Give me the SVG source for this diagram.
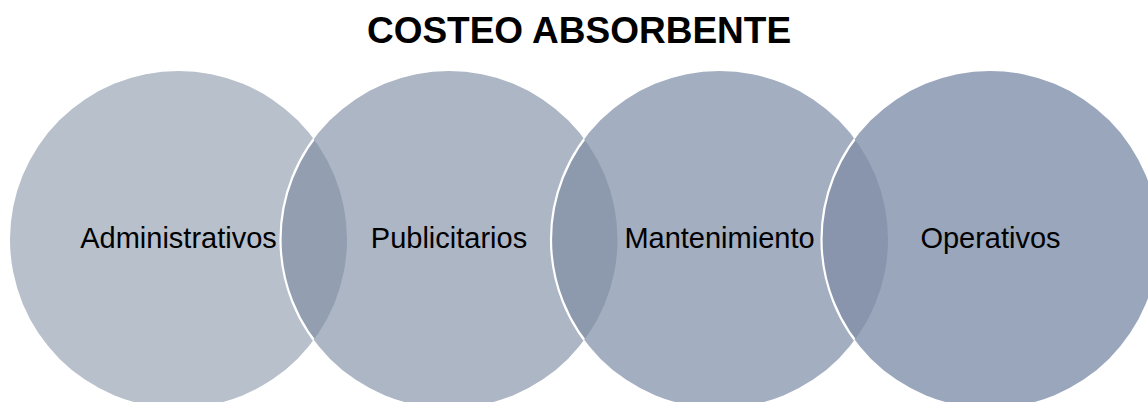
<svg xmlns="http://www.w3.org/2000/svg" width="1148" height="402" viewBox="0 0 1148 402">
  <style>
    .title { font-family: "Liberation Sans", Arial, sans-serif; font-weight: bold; font-size: 37px; fill: #000; text-anchor: middle; }
    .label { font-family: "Liberation Sans", Arial, sans-serif; font-size: 29px; fill: #000; text-anchor: middle; }
    .edge { fill: none; stroke: #FFFFFF; stroke-width: 2.2; }
  </style>
  <defs>
    <clipPath id="c1"><circle cx="178.5" cy="239.5" r="168.5"/></clipPath>
    <clipPath id="c2"><circle cx="449" cy="239.5" r="168.5"/></clipPath>
    <clipPath id="c3"><circle cx="719.5" cy="239.5" r="168.5"/></clipPath>
  </defs>
  <rect width="1148" height="402" fill="#FFFFFF"/>
  <text class="title" x="579" y="43">COSTEO ABSORBENTE</text>

  <g id="node-administrativos">
    <circle cx="178.5" cy="239.5" r="168.5" fill="#B8C0CC"/>
  </g>
  <g id="node-publicitarios">
    <circle cx="449" cy="239.5" r="168.5" fill="#ADB6C5"/>
    <circle cx="449" cy="239.5" r="168.5" fill="#939FB1" clip-path="url(#c1)"/>
    <circle cx="449" cy="239.5" r="168.5" class="edge" clip-path="url(#c1)"/>
  </g>
  <g id="node-mantenimiento">
    <circle cx="719.5" cy="239.5" r="168.5" fill="#A3AEC0"/>
    <circle cx="719.5" cy="239.5" r="168.5" fill="#8D9AAE" clip-path="url(#c2)"/>
    <circle cx="719.5" cy="239.5" r="168.5" class="edge" clip-path="url(#c2)"/>
  </g>
  <g id="node-operativos">
    <circle cx="990" cy="239.5" r="168.5" fill="#99A6BB"/>
    <circle cx="990" cy="239.5" r="168.5" fill="#8995AC" clip-path="url(#c3)"/>
    <circle cx="990" cy="239.5" r="168.5" class="edge" clip-path="url(#c3)"/>
  </g>
  <g id="connectors"></g>
  <g id="labels">
    <text class="label" x="178.5" y="248">Administrativos</text>
    <text class="label" x="449" y="248">Publicitarios</text>
    <text class="label" x="719.5" y="248">Mantenimiento</text>
    <text class="label" x="990.5" y="248">Operativos</text>
  </g>
</svg>
